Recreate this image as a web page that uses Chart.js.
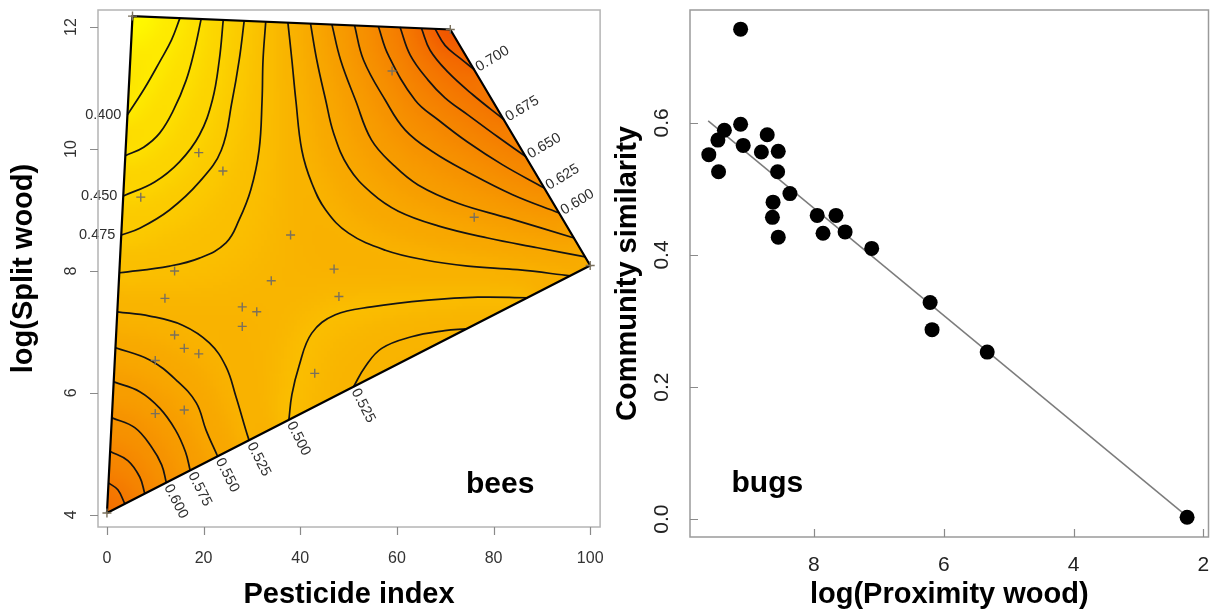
<!DOCTYPE html>
<html>
<head>
<meta charset="utf-8">
<script src="https://cdn.jsdelivr.net/npm/chart.js@4.4.1/dist/chart.umd.min.js"></script>
<style>
  html, body { margin: 0; padding: 0; background: #fff; }
  #wrap { position: relative; width: 1216px; height: 612px; overflow: hidden; }
  canvas { position: absolute; top: 0; }
  #beesChart { left: 0; }
  #bugsChart { left: 606px; }
</style>
</head>
<body>
<div id="wrap">
  <canvas id="beesChart" width="606" height="612"></canvas>
  <canvas id="bugsChart" width="610" height="612"></canvas>
</div>
<script>
const FONT = "'Liberation Sans', Arial, Helvetica, sans-serif";

// ---------- bees: fitted surface over pesticide index / log(split wood) ----------
const pestTicks = [0, 20, 40, 60, 80, 100];
const splitTicks = [4, 6, 8, 10, 12];

// convex hull of the sites (bottom-left, top-left, top-right, right) and the surface level there
const hullX = [0, 5.29, 71.05, 100];
const hullY = [4.03, 12.18, 11.96, 8.09];
const hullLevel = [0.67, 0.375, 0.73, 0.54];

const siteX = [19, 24, 7, 38, 14, 34, 12, 59, 76, 47, 48, 28, 31, 28, 14, 16, 19, 10, 10, 16, 43, 0, 5.29, 71.05, 100];
const siteY = [9.94, 9.64, 9.21, 8.59, 8.0, 7.84, 7.55, 11.28, 8.88, 8.03, 7.58, 7.41, 7.33, 7.09, 6.95, 6.73, 6.64, 6.53, 5.66, 5.72, 6.32, 4.03, 12.18, 11.96, 8.09];

// contour lines, [pesticide, log split wood]
const c400 = [[15.12, 12.15], [13.37, 11.79], [10.91, 11.43], [7.82, 11.0], [4.24, 10.56]];
const c425 = [[19.49, 12.13], [18.11, 11.62], [16.40, 11.13], [13.79, 10.64], [10.91, 10.26], [7.61, 10.03], [3.81, 9.89]];
const c450 = [[24.07, 12.12], [23.25, 11.46], [21.81, 10.80], [19.14, 10.23], [15.02, 9.79], [9.88, 9.46], [3.40, 9.23]];
const c475 = [[28.40, 12.10], [27.37, 11.46], [25.93, 10.80], [23.66, 9.98], [19.14, 9.46], [12.96, 9.0], [6.79, 8.70], [2.98, 8.59]];
const c500 = [[32.86, 12.09], [32.30, 11.46], [32.10, 10.80], [31.48, 9.98], [29.77, 9.33], [27.37, 8.84], [24.63, 8.46], [19.14, 8.21], [12.96, 8.08], [2.63, 7.97]];
const c525 = [[37.45, 12.07], [38.27, 11.46], [39.09, 10.80], [40.33, 9.98], [42.39, 9.44], [45.27, 9.0], [50.0, 8.62], [57.61, 8.34], [65.84, 8.18], [74.69, 8.08], [84.98, 8.02], [95.88, 7.92]];
const c550 = [[42.12, 12.06], [43.42, 11.46], [45.27, 10.80], [46.91, 10.26], [50.0, 9.70], [54.73, 9.28], [60.29, 8.98], [68.52, 8.74], [78.81, 8.54], [89.09, 8.38], [98.99, 8.23]];
const c575 = [[46.56, 12.04], [48.35, 11.46], [51.44, 10.80], [54.73, 10.15], [59.26, 9.74], [64.40, 9.41], [72.63, 9.11], [82.92, 8.87], [96.67, 8.54]];
const c600 = [[51.23, 12.03], [53.09, 11.46], [57.61, 10.80], [61.73, 10.31], [67.49, 9.95], [74.69, 9.62], [83.95, 9.25], [93.60, 8.95]];
const c625 = [[56.17, 12.01], [58.23, 11.54], [63.79, 10.80], [68.52, 10.48], [74.69, 10.11], [81.89, 9.74], [90.53, 9.36]];
const c650 = [[60.64, 12.0], [62.76, 11.54], [66.46, 11.13], [69.96, 10.84], [74.69, 10.56], [80.86, 10.20], [86.73, 9.87]];
const c675 = [[65.08, 11.98], [66.87, 11.62], [70.58, 11.26], [75.72, 10.89], [82.18, 10.48]];
const c700 = [[67.90, 11.97], [69.96, 11.70], [73.05, 11.49], [76.05, 11.30]];
const b525 = [[2.18, 7.33], [8.85, 7.26], [15.64, 7.11], [21.19, 6.82], [24.63, 6.43], [26.69, 5.94], [28.74, 5.39], [29.42, 5.22]];
const b550 = [[1.79, 6.74], [8.85, 6.54], [14.34, 6.21], [18.46, 5.84], [20.51, 5.39], [22.90, 4.96]];
const b575 = [[1.44, 6.18], [6.79, 6.02], [10.91, 5.75], [14.20, 5.39], [16.26, 5.03], [17.22, 4.73]];
const b600 = [[1.07, 5.59], [5.76, 5.43], [9.26, 5.11], [11.32, 4.82], [12.28, 4.53]];
const b625 = [[0.71, 5.04], [4.32, 4.89], [6.79, 4.62], [7.82, 4.35]];
const b650 = [[0.38, 4.52], [2.26, 4.41], [3.70, 4.18]];
const r500 = [[37.65, 5.56], [38.27, 5.97], [39.71, 6.43], [42.39, 6.98], [47.26, 7.28], [54.73, 7.41], [66.46, 7.52], [76.75, 7.57], [87.04, 7.56]];
const r525 = [[51.03, 6.10], [53.44, 6.43], [56.85, 6.73], [63.02, 6.92], [69.90, 7.02], [74.28, 7.05]];

const contourLines = [
  { level: 0.400, pts: c400, label: 'end', side: 'left' },
  { level: 0.425, pts: c425 },
  { level: 0.450, pts: c450, label: 'end', side: 'left' },
  { level: 0.475, pts: c475, label: 'end', side: 'left' },
  { level: 0.500, pts: c500 },
  { level: 0.525, pts: c525 },
  { level: 0.550, pts: c550 },
  { level: 0.575, pts: c575 },
  { level: 0.600, pts: c600, label: 'end', side: 'right' },
  { level: 0.625, pts: c625, label: 'end', side: 'right' },
  { level: 0.650, pts: c650, label: 'end', side: 'right' },
  { level: 0.675, pts: c675, label: 'end', side: 'right' },
  { level: 0.700, pts: c700, label: 'end', side: 'right' },
  { level: 0.525, pts: b525, label: 'end', side: 'bottom' },
  { level: 0.550, pts: b550, label: 'end', side: 'bottom' },
  { level: 0.575, pts: b575, label: 'end', side: 'bottom' },
  { level: 0.600, pts: b600, label: 'end', side: 'bottom' },
  { level: 0.625, pts: b625 },
  { level: 0.650, pts: b650 },
  { level: 0.500, pts: r500, label: 'start', side: 'bottom' },
  { level: 0.525, pts: r525, label: 'start', side: 'bottom' }
];

// ---------- bugs: community similarity vs log(proximity wood) ----------
const proxTicks = [8, 6, 4, 2];
const simTicks = [0, 0.2, 0.4, 0.6];
const proxX = [9.13, 9.13, 9.38, 9.48, 9.09, 8.72, 8.81, 8.55, 9.62, 9.47, 8.56, 8.37, 8.63, 8.64, 8.55, 7.95, 7.66, 7.86, 7.52, 7.11, 6.21, 6.18, 5.33, 2.25];
const simY = [0.742, 0.598, 0.589, 0.574, 0.566, 0.582, 0.556, 0.557, 0.552, 0.526, 0.526, 0.493, 0.480, 0.457, 0.427, 0.460, 0.460, 0.433, 0.435, 0.410, 0.328, 0.287, 0.253, 0.003];
const fitX = [9.63, 2.26];
const fitY = [0.603, 0.005];

function levelRgb(v) {
  let h = 60 - (v - 0.375) * 112;
  h = Math.max(10, Math.min(60, h));
  return [255 - (60 - h) * 0.35, 250 * h / 60, 0];
}

function toPoints(xs, ys) {
  return xs.map((x, i) => ({ x, y: ys[i] }));
}

let shadeCache = null;

function buildShade(chart) {
  const { x, y } = chart.scales;
  const samples = [];
  contourLines.forEach(c => {
    const px = c.pts.map(p => [x.getPixelForValue(p[0]), y.getPixelForValue(p[1])]);
    for (let i = 1; i < px.length; i++) {
      const [x0, y0] = px[i - 1];
      const [x1, y1] = px[i];
      const n = Math.max(1, Math.ceil(Math.hypot(x1 - x0, y1 - y0) / 6));
      for (let k = 0; k < n; k++) {
        samples.push([x0 + (x1 - x0) * k / n, y0 + (y1 - y0) * k / n, c.level, 1]);
      }
    }
    const last = px[px.length - 1];
    samples.push([last[0], last[1], c.level, 1]);
  });
  hullX.forEach((hx, i) => {
    samples.push([x.getPixelForValue(hx), y.getPixelForValue(hullY[i]), hullLevel[i], 40]);
  });

  const hx = hullX.map(v => x.getPixelForValue(v));
  const hy = hullY.map(v => y.getPixelForValue(v));
  const step = 3;
  const bx = Math.floor(Math.min(...hx)) - step;
  const by = Math.floor(Math.min(...hy)) - step;
  const cols = Math.ceil((Math.max(...hx) - bx) / step) + 2;
  const rows = Math.ceil((Math.max(...hy) - by) / step) + 2;

  const off = document.createElement('canvas');
  off.width = cols;
  off.height = rows;
  const octx = off.getContext('2d');
  const img = octx.createImageData(cols, rows);

  for (let j = 0; j < rows; j++) {
    const py = by + j * step + step / 2;
    for (let i = 0; i < cols; i++) {
      const px = bx + i * step + step / 2;
      let sw = 0;
      let sv = 0;
      for (let s = 0; s < samples.length; s++) {
        const dx = samples[s][0] - px;
        const dy = samples[s][1] - py;
        const d2 = dx * dx + dy * dy + 60;
        const w = samples[s][3] / (d2 * Math.pow(d2, 0.2));
        sw += w;
        sv += w * samples[s][2];
      }
      const rgb = levelRgb(sv / sw);
      const o = (j * cols + i) * 4;
      img.data[o] = rgb[0];
      img.data[o + 1] = rgb[1];
      img.data[o + 2] = rgb[2];
      img.data[o + 3] = 255;
    }
  }
  octx.putImageData(img, 0, 0);
  return { off, bx, by, w: cols * step, h: rows * step };
}

const surfaceFill = {
  id: 'surfaceFill',
  beforeDatasetsDraw(chart) {
    const { ctx, scales: { x, y } } = chart;
    if (!shadeCache) shadeCache = buildShade(chart);
    ctx.save();
    ctx.beginPath();
    hullX.forEach((hx, i) => {
      const px = x.getPixelForValue(hx);
      const py = y.getPixelForValue(hullY[i]);
      if (i === 0) ctx.moveTo(px, py); else ctx.lineTo(px, py);
    });
    ctx.closePath();
    ctx.clip();
    ctx.imageSmoothingEnabled = true;
    ctx.drawImage(shadeCache.off, shadeCache.bx, shadeCache.by, shadeCache.w, shadeCache.h);
    ctx.restore();
  }
};

const contourLabels = {
  id: 'contourLabels',
  afterDatasetsDraw(chart) {
    const { ctx, scales: { x, y } } = chart;
    ctx.save();
    ctx.fillStyle = '#2e2e2e';
    ctx.font = `14.5px ${FONT}`;
    ctx.textBaseline = 'middle';
    contourLines.forEach(c => {
      if (!c.label) return;
      const p = c.label === 'end' ? c.pts[c.pts.length - 1] : c.pts[0];
      const px = x.getPixelForValue(p[0]);
      const py = y.getPixelForValue(p[1]);
      const text = c.level.toFixed(3);
      ctx.save();
      ctx.translate(px, py);
      if (c.side === 'left') {
        ctx.textAlign = 'right';
        ctx.fillText(text, -6, 0);
      } else {
        ctx.rotate((c.side === 'right' ? -31 : 63) * Math.PI / 180);
        ctx.textAlign = 'left';
        ctx.fillText(text, 3, 0);
      }
      ctx.restore();
    });
    ctx.restore();
  }
};

const axisDecor = {
  id: 'axisDecor',
  afterDraw(chart, args, o) {
    const { ctx, chartArea: ca, scales: { x, y } } = chart;
    ctx.save();
    ctx.strokeStyle = o.boxColor;
    ctx.lineWidth = o.boxWidth;
    ctx.strokeRect(ca.left, ca.top, ca.right - ca.left, ca.bottom - ca.top);

    ctx.strokeStyle = o.tickColor;
    ctx.lineWidth = 1.2;
    ctx.beginPath();
    x.ticks.forEach(t => {
      const px = Math.round(x.getPixelForValue(t.value)) + 0.5;
      ctx.moveTo(px, ca.bottom);
      ctx.lineTo(px, ca.bottom + o.tickLen);
    });
    y.ticks.forEach(t => {
      const py = Math.round(y.getPixelForValue(t.value)) + 0.5;
      ctx.moveTo(ca.left, py);
      ctx.lineTo(ca.left - o.tickLen, py);
    });
    ctx.stroke();

    ctx.fillStyle = o.labelColor;
    ctx.font = `${o.labelSize}px ${FONT}`;
    ctx.textAlign = 'center';
    ctx.textBaseline = 'middle';
    x.ticks.forEach(t => {
      ctx.fillText(t.value.toFixed(o.xDecimals), x.getPixelForValue(t.value), o.xLabelY);
    });
    y.ticks.forEach(t => {
      ctx.save();
      ctx.translate(o.yLabelX, y.getPixelForValue(t.value));
      ctx.rotate(-Math.PI / 2);
      ctx.fillText(t.value.toFixed(o.yDecimals), 0, 0);
      ctx.restore();
    });

    ctx.fillStyle = '#000';
    ctx.font = `bold ${o.tagSize}px ${FONT}`;
    ctx.textAlign = 'left';
    ctx.textBaseline = 'alphabetic';
    ctx.fillText(o.tagText, x.getPixelForValue(o.tagX), y.getPixelForValue(o.tagY));
    ctx.restore();
  }
};

function axisTitle(text, padTop) {
  return {
    display: true,
    text,
    color: '#000',
    font: { family: FONT, size: 29, weight: 'bold' },
    padding: { top: padTop, bottom: 0 }
  };
}

function initBees() {
  const datasets = [
    {
      label: 'sites',
      data: toPoints(siteX, siteY),
      pointStyle: 'cross',
      pointRadius: 4.5,
      borderColor: '#7a705c',
      borderWidth: 1.4,
      order: 0
    },
    {
      label: 'hull',
      data: toPoints(hullX.concat(hullX[0]), hullY.concat(hullY[0])),
      showLine: true,
      borderColor: '#000',
      borderWidth: 2.2,
      pointRadius: 0,
      tension: 0,
      order: 1
    }
  ];

  contourLines.forEach(c => {
    datasets.push({
      label: c.level.toFixed(3),
      data: c.pts.map(p => ({ x: p[0], y: p[1] })),
      showLine: true,
      borderColor: '#141414',
      borderWidth: 1.7,
      pointRadius: 0,
      tension: 0.4,
      order: 2
    });
  });

  new Chart(document.getElementById('beesChart'), {
    type: 'scatter',
    data: { datasets },
    options: {
      responsive: false,
      animation: false,
      events: [],
      layout: { padding: { left: 0, top: 10, right: 3, bottom: 0 } },
      plugins: {
        legend: { display: false },
        tooltip: { enabled: false },
        axisDecor: {
          boxColor: '#b4b4b4', boxWidth: 1.5, tickColor: '#8a8a8a', tickLen: 8,
          labelColor: '#333', labelSize: 16, xLabelY: 559, yLabelX: 72,
          xDecimals: 0, yDecimals: 0,
          tagText: 'bees', tagSize: 30, tagX: 74.3, tagY: 4.36
        }
      },
      scales: {
        x: {
          type: 'linear', min: -1.85, max: 102.05,
          afterBuildTicks: s => { s.ticks = pestTicks.map(v => ({ value: v })); },
          afterFit: s => { s.height = 85; },
          grid: { display: false }, border: { display: false },
          ticks: { display: false },
          title: axisTitle('Pesticide index', 0)
        },
        y: {
          type: 'linear', min: 3.80, max: 12.28,
          afterBuildTicks: s => { s.ticks = splitTicks.map(v => ({ value: v })); },
          afterFit: s => { s.width = 98; },
          grid: { display: false }, border: { display: false },
          ticks: { display: false },
          title: axisTitle('log(Split wood)', 7)
        }
      }
    },
    plugins: [surfaceFill, contourLabels, axisDecor]
  });
}

function initBugs() {
  new Chart(document.getElementById('bugsChart'), {
    type: 'scatter',
    data: {
      datasets: [
        {
          label: 'sites',
          data: toPoints(proxX, simY),
          pointRadius: 7.5,
          backgroundColor: '#000',
          borderWidth: 0,
          order: 0
        },
        {
          label: 'fit',
          data: toPoints(fitX, fitY),
          showLine: true,
          borderColor: '#7c7c7c',
          borderWidth: 1.5,
          pointRadius: 0,
          order: 1
        }
      ]
    },
    options: {
      responsive: false,
      animation: false,
      events: [],
      layout: { padding: { left: 0, top: 10, right: 4, bottom: 0 } },
      plugins: {
        legend: { display: false },
        tooltip: { enabled: false },
        axisDecor: {
          boxColor: '#9a9a9a', boxWidth: 1.5, tickColor: '#8a8a8a', tickLen: -8,
          labelColor: '#222', labelSize: 21, xLabelY: 565, yLabelX: 56,
          xDecimals: 0, yDecimals: 1,
          tagText: 'bugs', tagSize: 30, tagX: 9.27, tagY: 0.041
        }
      },
      scales: {
        x: {
          type: 'linear', min: 1.92, max: 9.91, reverse: true,
          afterBuildTicks: s => { s.ticks = proxTicks.map(v => ({ value: v })); },
          afterFit: s => { s.height = 75; },
          grid: { display: false }, border: { display: false },
          ticks: { display: false },
          title: axisTitle('log(Proximity wood)', 0)
        },
        y: {
          type: 'linear', min: -0.027, max: 0.771,
          afterBuildTicks: s => { s.ticks = simTicks.map(v => ({ value: v })); },
          afterFit: s => { s.width = 84; },
          grid: { display: false }, border: { display: false },
          ticks: { display: false },
          title: axisTitle('Community similarity', 5)
        }
      }
    },
    plugins: [axisDecor]
  });
}

document.addEventListener('DOMContentLoaded', () => {
  initBees();
  initBugs();
});
</script>
</body>
</html>
